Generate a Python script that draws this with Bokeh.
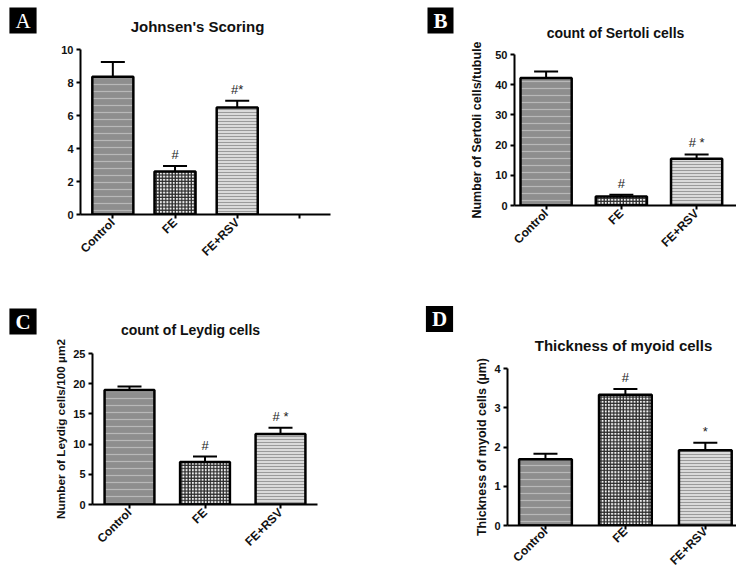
import math
from bokeh.plotting import figure
from bokeh.models import Range1d, FixedTicker, Label, Whisker, TeeHead, ColumnDataSource
from bokeh.layouts import column, row
from bokeh.core.properties import value
from bokeh.embed import file_html
from bokeh.resources import INLINE

# ---------------- data ----------------
groups_a = ["Control", "FE", "FE+RSV", ""]
mean_a = [8.35, 2.6, 6.48]
sem_a = [0.9, 0.34, 0.41]
marks_a = ["", "#", "#*"]
ticks_a = [0, 2, 4, 6, 8, 10]

groups_b = ["Control", "FE", "FE+RSV"]
mean_b = [42.2, 3.0, 15.45]
sem_b = [2.2, 0.6, 1.45]
marks_b = ["", "#", "# *"]
ticks_b = [0, 10, 20, 30, 40, 50]

groups_c = ["Control", "FE", "FE+RSV"]
mean_c = [18.95, 7.05, 11.67]
sem_c = [0.6, 0.88, 1.05]
marks_c = ["", "#", "# *"]
ticks_c = [0, 5, 10, 15, 20, 25]

groups_d = ["Control", "FE", "FE+RSV"]
mean_d = [1.69, 3.33, 1.92]
sem_d = [0.14, 0.15, 0.19]
marks_d = ["", "#", "*"]
ticks_d = [0, 1, 2, 3, 4]

# ---------------- styles ----------------
FONT = "Liberation Sans"
BAR_STYLES = [
    dict(fill_color="#8e8e8e", hatch_pattern="horizontal_line", hatch_color="#b8b8b8",
         hatch_scale=7, hatch_weight=1.2),
    dict(fill_color="#f0f0f0", hatch_pattern="cross", hatch_color="#2a2a2a",
         hatch_scale=3.2, hatch_weight=1.3),
    dict(fill_color="#dadada", hatch_pattern="horizontal_line", hatch_color="#9a9a9a",
         hatch_scale=3, hatch_weight=1),
]


def header(w, hh, title, title_pos, title_size, letter, letter_pos):
    hd = figure(width=w, height=hh, output_backend="svg", toolbar_location=None,
                x_range=Range1d(0, w), y_range=Range1d(hh, 0),
                x_axis_location=None, y_axis_location=None,
                min_border=0, outline_line_color=None, frame_align=False)
    hd.xgrid.visible = False
    hd.ygrid.visible = False
    hd.title.visible = False
    hd.add_layout(Label(x=title_pos[0], y=title_pos[1], text=title,
                        text_font=FONT, text_font_style="bold", text_font_size=title_size,
                        text_align="center", text_baseline="middle", text_color="#111111"))
    hd.add_layout(Label(x=letter_pos[0], y=letter_pos[1], text=letter,
                        text_font="Liberation Serif", text_font_size="21px",
                        text_font_style="normal" if letter == "A" else "bold",
                        text_color="white", background_fill_color="black",
                        padding=(6, 1), text_align="center", text_baseline="middle"))
    return hd


def chart(groups, means, sems, marks, ticks, *, w, h, fl, fr, ft, fb, xs, xe, bar_w,
          ylabel, ylabel_standoff, ylabel_size="12.5px", xl_standoff=2):
    p = figure(width=w, height=h, output_backend="svg", toolbar_location=None,
               x_range=Range1d(xs, xe), y_range=Range1d(ticks[0], ticks[-1]),
               min_border_left=fl, min_border_right=fr, min_border_top=ft,
               min_border_bottom=fb, outline_line_color=None, frame_align=False)
    p.xgrid.visible = False
    p.ygrid.visible = False
    p.title.visible = False

    idx = list(range(len(means)))
    upper = [m + s for m, s in zip(means, sems)]
    for i in idx:
        p.vbar(x=[i], top=[means[i]], bottom=0, width=bar_w, line_color="black",
               line_width=2.5, **BAR_STYLES[i])

    src = ColumnDataSource(dict(x=idx, lower=means, upper=upper, marks=marks))
    p.add_layout(Whisker(base="x", upper="upper", lower="lower", source=src,
                         dimension="height", line_width=2, line_color="black",
                         upper_head=TeeHead(size=24, line_width=2, line_color="black"),
                         lower_head=None))
    p.text(x="x", y="upper", text="marks", source=src, text_align="center",
           text_baseline="bottom", y_offset=-4, text_font=value(FONT),
           text_font_size="13px", text_color="#222222")

    xa = p.xaxis[0]
    xa.ticker = FixedTicker(ticks=list(range(len(groups))))
    xa.major_label_overrides = {i: g for i, g in enumerate(groups)}
    xa.major_label_orientation = math.pi / 4
    xa.major_label_text_font_size = "12px"
    xa.major_tick_out = 4
    xa.major_label_standoff = xl_standoff
    ya = p.yaxis[0]
    ya.ticker = FixedTicker(ticks=ticks)
    ya.major_label_text_font_size = "11px"
    ya.major_tick_out = 4
    ya.major_label_standoff = 3
    for ax in (xa, ya):
        ax.axis_line_width = 2
        ax.axis_line_color = "black"
        ax.major_tick_line_width = 2
        ax.major_tick_line_color = "black"
        ax.major_tick_in = 0
        ax.minor_tick_line_color = None
        ax.major_label_text_font = FONT
        ax.major_label_text_font_style = "bold"
        ax.major_label_text_color = "#111111"
    if ylabel:
        ya.axis_label = ylabel
        ya.axis_label_text_font = FONT
        ya.axis_label_text_font_style = "bold"
        ya.axis_label_text_font_size = ylabel_size
        ya.axis_label_text_color = "#111111"
        ya.axis_label_standoff = ylabel_standoff
    return p


# Panel A
ha = header(368, 38, "Johnsen's Scoring", (197, 26), "15px", "A", (22.5, 20))
pa = chart(groups_a, mean_a, sem_a, marks_a, ticks_a, w=368, h=250, fl=80, fr=38,
           ft=11, fb=74, xs=-0.52, xe=3.5, bar_w=0.66, ylabel=None, ylabel_standoff=0)
# Panel B
hb = header(368, 42, "count of Sertoli cells", (247, 32), "14px", "B", (72, 20))
pb = chart(groups_b, mean_b, sem_b, marks_b, ticks_b, w=368, h=246, fl=146, fr=0,
           ft=12, fb=83, xs=-0.42, xe=2.53, bar_w=0.68,
           ylabel="Number of Sertoli cells/tubule", ylabel_standoff=8)
# Panel C
hc = header(368, 50, "count of Leydig cells", (190, 41), "14px", "C", (22.5, 33))
pc = chart(groups_c, mean_c, sem_c, marks_c, ticks_c, w=368, h=237, fl=92, fr=51,
           ft=15, fb=71, xs=-0.49, xe=2.49, bar_w=0.66,
           ylabel="Number of Leydig cells/100 \u00b5m2", ylabel_standoff=2,
           ylabel_size="11.8px")
# Panel D
hdd = header(368, 68, "Thickness of myoid cells", (255, 57), "15px", "D", (71, 30.5))
pd_ = chart(groups_d, mean_d, sem_d, marks_d, ticks_d, w=368, h=219, fl=139, fr=0,
            ft=12, fb=48, xs=-0.475, xe=2.39, bar_w=0.66,
            ylabel="Thickness of myoid cells (\u00b5m)", ylabel_standoff=2, xl_standoff=0)

layout = column(row(column(ha, pa), column(hb, pb)), row(column(hc, pc), column(hdd, pd_)))
open("out.html", "w").write(file_html(layout, INLINE))
